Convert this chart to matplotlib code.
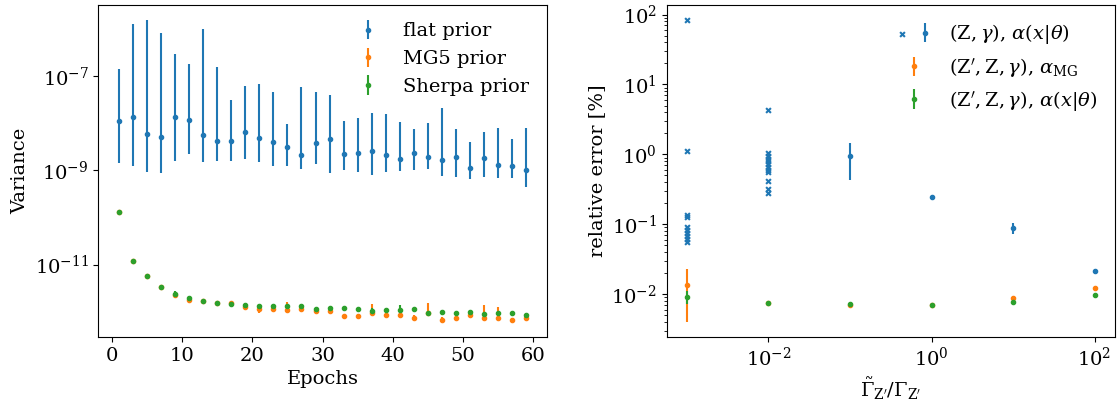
import numpy as np
import matplotlib
matplotlib.use('Agg')
import matplotlib.pyplot as plt
from matplotlib.legend_handler import HandlerTuple
from matplotlib.ticker import NullLocator

plt.rcParams['font.family'] = 'DejaVu Serif'
plt.rcParams['mathtext.fontset'] = 'dejavuserif'
plt.rcParams['font.size'] = 14

# left panel: variance vs epochs
epochs = np.arange(1, 60, 2)
flat_val = [1.12e-8, 1.39e-8, 5.82e-9, 5.02e-9, 1.35e-8, 1.18e-8, 5.62e-9, 4.18e-9, 4.25e-9, 6.62e-9,
            4.92e-9, 4.05e-9, 3.11e-9, 2.17e-9, 3.79e-9, 4.55e-9, 2.23e-9, 2.31e-9, 2.59e-9, 2.10e-9,
            1.75e-9, 2.31e-9, 1.93e-9, 1.64e-9, 1.93e-9, 1.14e-9, 1.87e-9, 1.30e-9, 1.24e-9, 1.01e-9]
flat_hi = [1.39e-7, 1.26e-6, 1.56e-6, 8.1e-7, 3.02e-7, 1.84e-7, 1.0e-6, 1.53e-7, 3.12e-8, 6.22e-8,
           6.74e-8, 4.70e-8, 9.55e-9, 6.01e-8, 4.64e-8, 3.99e-8, 1.12e-8, 1.30e-8, 1.69e-8, 1.56e-8,
           1.08e-8, 7.57e-9, 1.0e-8, 2.10e-8, 7.45e-9, 3.93e-9, 6.62e-9, 7.94e-9, 4.69e-9, 8.07e-9]
flat_lo = [1.46e-9, 1.26e-9, 9.2e-10, 8.75e-10, 1.61e-9, 2.23e-9, 1.54e-9, 1.61e-9, 1.58e-9, 1.72e-9,
           1.54e-9, 1.22e-9, 1.24e-9, 1.07e-9, 1.35e-9, 8.75e-10, 1.04e-9, 9.4e-10, 8.1e-10, 9.2e-10,
           9.7e-10, 1.04e-9, 1.09e-9, 7.7e-10, 7.4e-10, 6.5e-10, 7.3e-10, 6.8e-10, 6.8e-10, 4.5e-10]
mg5_val = [1.28e-10, 1.22e-11, 5.61e-12, 3.32e-12, 2.31e-12, 1.80e-12, 1.67e-12, 1.50e-12, 1.51e-12, 1.28e-12,
           1.14e-12, 1.14e-12, 1.10e-12, 1.12e-12, 1.01e-12, 1.01e-12, 8.2e-13, 8.2e-13, 9.6e-13, 8.6e-13,
           8.5e-13, 7.5e-13, 9.3e-13, 6.7e-13, 7.3e-13, 8.6e-13, 7.2e-13, 7.5e-13, 6.6e-13, 7.2e-13]
mg5_up = [2e-12, 3e-13, 1e-13, 8e-14, 8e-14, 1e-13, 6e-14, 5e-14, 1e-13, 1e-13,
          3e-13, 1e-13, 5e-13, 1e-13, 5e-14, 5e-14, 5e-14, 5e-14, 5.2e-13, 5e-14,
          5e-14, 1e-13, 6e-13, 1e-13, 5e-14, 1e-13, 6.4e-13, 5.3e-13, 5e-14, 5e-14]
mg5_down = [2e-12, 3e-13, 1e-13, 8e-14, 8e-14, 1e-13, 6e-14, 5e-14, 1e-13, 1e-13,
            2e-13, 1e-13, 1e-13, 1e-13, 5e-14, 5e-14, 5e-14, 5e-14, 8e-14, 5e-14,
            5e-14, 5e-14, 1.2e-13, 5e-14, 5e-14, 5e-14, 5e-14, 5e-14, 5e-14, 5e-14]
sherpa_val = [1.28e-10, 1.22e-11, 5.61e-12, 3.32e-12, 2.39e-12, 1.99e-12, 1.69e-12, 1.53e-12, 1.48e-12, 1.41e-12,
              1.34e-12, 1.34e-12, 1.30e-12, 1.30e-12, 1.16e-12, 1.18e-12, 1.18e-12, 1.12e-12, 1.03e-12, 1.09e-12,
              1.09e-12, 1.12e-12, 9.3e-13, 1.0e-12, 9.3e-13, 1.0e-12, 9.0e-13, 9.4e-13, 9.2e-13, 8.6e-13]
sherpa_err = [2e-12, 3e-13, 1e-13, 1e-13, 3e-13, 1.5e-13, 5e-14, 1e-13, 1e-13, 5e-14,
              1.5e-13, 1e-13, 1.5e-13, 1.5e-13, 5e-14, 1e-13, 1e-13, 1e-13, 1.5e-13, 1e-13,
              3e-13, 5e-14, 5e-14, 1e-13, 5e-14, 1e-13, 5e-14, 5e-14, 5e-14, 5e-14]

# right panel: relative error vs width ratio
x_runs_a = [1e-3] * 10
y_runs_a = [84, 1.13, 0.135, 0.125, 0.09, 0.082, 0.075, 0.068, 0.062, 0.056]
x_runs_b = [1e-2] * 12
y_runs_b = [4.35, 1.03, 0.95, 0.867, 0.793, 0.727, 0.665, 0.602, 0.551, 0.419, 0.318, 0.275]
zg_x = [1e-1, 1e0, 1e1, 1e2]
zg_val = [0.935, 0.244, 0.0873, 0.0217]
zg_err = [0.51, 0.008, 0.016, 0.0008]
zp_x = [1e-3, 1e-2, 1e-1, 1e0, 1e1, 1e2]
mg_val = [0.0133, 0.00752, 0.0070, 0.00703, 0.00877, 0.01236]
mg_err = [0.0093, 0.0003, 0.0003, 0.0002, 0.0004, 0.0004]
nf_val = [0.00906, 0.00752, 0.0072, 0.00703, 0.00778, 0.0098]
nf_err = [0.0019, 0.0002, 0.0002, 0.0002, 0.0002, 0.0003]

fig, (ax1, ax2) = plt.subplots(1, 2, figsize=(11.2, 4.03), dpi=100)
fig.subplots_adjust(left=0.0878, right=0.9955, bottom=0.164, top=0.988, wspace=0.267)

flat_val = np.array(flat_val)
flat_yerr = [flat_val - np.array(flat_lo), np.array(flat_hi) - flat_val]
ax1.errorbar(epochs, flat_val, yerr=flat_yerr, fmt='.', label='flat prior')
ax1.errorbar(epochs, mg5_val, yerr=[mg5_down, mg5_up], fmt='.', label='MG5 prior')
ax1.errorbar(epochs, sherpa_val, yerr=sherpa_err, fmt='.', label='Sherpa prior')
ax1.set_yscale('log')
ax1.set_yticks([1e-11, 1e-9, 1e-7])
ax1.yaxis.set_minor_locator(NullLocator())
ax1.set_xlabel('Epochs')
ax1.set_ylabel('Variance')
ax1.legend(frameon=False, loc='upper right')

cross = ax2.scatter(x_runs_a + x_runs_b, y_runs_a + y_runs_b, marker='x', s=12, color='C0', linewidths=1.5)
eb0 = ax2.errorbar(zg_x, zg_val, yerr=zg_err, fmt='.', color='C0')
eb1 = ax2.errorbar(zp_x, mg_val, yerr=mg_err, fmt='.', color='C1')
eb2 = ax2.errorbar(zp_x, nf_val, yerr=nf_err, fmt='.', color='C2')
ax2.set_xscale('log')
ax2.set_yscale('log')
ax2.set_xticks([1e-2, 1e0, 1e2])
ax2.xaxis.set_minor_locator(NullLocator())
ax2.set_xlabel(r'$\tilde{\Gamma}_{\mathrm{Z}^\prime}/\Gamma_{\mathrm{Z}^\prime}$')
ax2.set_ylabel(r'relative error [%]')
ax2.legend([(cross, eb0), eb1, eb2],
           [r'$(\mathrm{Z},\gamma)$, $\alpha(x|\theta)$',
            r"$(\mathrm{Z}',\mathrm{Z},\gamma)$, $\alpha_\mathrm{MG}$",
            r"$(\mathrm{Z}',\mathrm{Z},\gamma)$, $\alpha(x|\theta)$"],
           handler_map={tuple: HandlerTuple(ndivide=None)},
           frameon=False, loc='upper right')

plt.savefig('out.png')
